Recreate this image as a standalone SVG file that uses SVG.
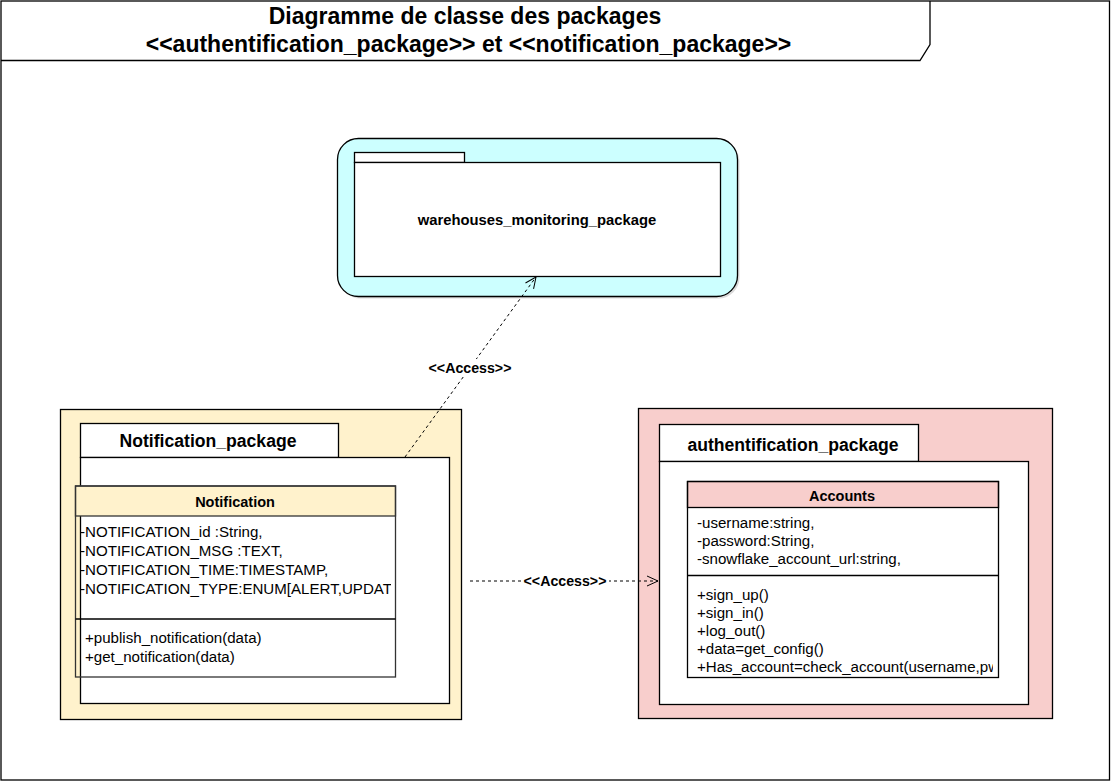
<svg xmlns="http://www.w3.org/2000/svg" width="1111" height="781" viewBox="0 0 1111 781">
<style>
text{font-family:"Liberation Sans",Arial,Helvetica,sans-serif;fill:#000}
.title{font-size:23px;font-weight:bold;text-anchor:middle}
.pkgname{font-size:17.6px;font-weight:bold;text-anchor:middle}
.cls{font-size:14.5px;font-weight:bold;text-anchor:middle}
.attr{font-size:15.1px}
.lbl{font-size:14.2px;font-weight:bold;text-anchor:middle}
.ln{fill:none;stroke:#000;stroke-width:1.3}
.white{fill:#fff;stroke:#000;stroke-width:1.3}
.dash{fill:none;stroke:#000;stroke-width:1;stroke-dasharray:3 3}
</style>
<defs>
<marker id="open" markerWidth="14" markerHeight="14" refX="12" refY="6" orient="auto" markerUnits="userSpaceOnUse">
<path d="M1,1 L12,6 L1,11" fill="none" stroke="#000" stroke-width="1"/>
</marker>
<clipPath id="clipNotif"><rect x="76" y="516" width="315" height="160"/></clipPath>
<clipPath id="clipAcc"><rect x="688" y="508" width="305" height="168"/></clipPath>
</defs>
<rect width="1111" height="781" fill="#fff"/>
<g id="frame">
<rect x="1" y="1" width="1108.5" height="779" class="ln" stroke-width="1.5"/>
<path d="M1,60.5 H920 L930,44.5 V1" class="ln"/>
<text class="title" x="465" y="24">Diagramme de classe des packages</text>
<text class="title" x="468.5" y="52">&lt;&lt;authentification_package&gt;&gt; et &lt;&lt;notification_package&gt;&gt;</text>
</g>
<g id="warehouses_monitoring_package">
<rect x="339.5" y="140.5" width="400" height="158" rx="21" fill="#999" opacity="0.35"/>
<rect x="337.5" y="138.5" width="400" height="158" rx="21" fill="#CCFFFF" stroke="#000" stroke-width="1.3"/>
<rect x="354.5" y="152.5" width="110" height="10" class="white"/>
<rect x="354.5" y="162.5" width="366" height="114" class="white"/>
<text x="537" y="225" font-size="14.8" font-weight="bold" text-anchor="middle">warehouses_monitoring_package</text>
</g>
<g id="notification_package">
<rect x="60.5" y="409.5" width="401" height="310" fill="#FFF2CC" stroke="#000" stroke-width="1.3"/>
<rect x="80.5" y="423.5" width="258" height="34" class="white"/>
<rect x="80.5" y="457.5" width="369" height="246" class="white"/>
<text class="pkgname" x="208" y="447">Notification_package</text>
</g>
<g id="Notification">
<rect x="75.5" y="486" width="320" height="30" fill="#FFF2CC" stroke="#333" stroke-width="1.3"/>
<rect x="75.5" y="486" width="320" height="191" fill="none" stroke="#333" stroke-width="1.3"/>
<line x1="75.5" y1="619" x2="395.5" y2="619" stroke="#000" stroke-width="1.3"/>
<text class="cls" x="235" y="507">Notification</text>
<g clip-path="url(#clipNotif)">
<text class="attr" x="80" y="537">-NOTIFICATION_id :String,</text>
<text class="attr" x="80" y="556">-NOTIFICATION_MSG :TEXT,</text>
<text class="attr" x="80" y="575">-NOTIFICATION_TIME:TIMESTAMP,</text>
<text class="attr" x="80" y="594">-NOTIFICATION_TYPE:ENUM[ALERT,UPDATE]</text>
<text class="attr" x="85" y="643">+publish_notification(data)</text>
<text class="attr" x="85" y="662">+get_notification(data)</text>
</g>
</g>
<g id="authentification_package">
<rect x="638.5" y="408.5" width="414" height="310" fill="#F8CECC" stroke="#000" stroke-width="1.3"/>
<rect x="659.5" y="424.5" width="259" height="37" class="white"/>
<rect x="659.5" y="461.5" width="369" height="243" class="white"/>
<text class="pkgname" x="793" y="451">authentification_package</text>
</g>
<g id="Accounts">
<rect x="687.5" y="481.5" width="311" height="26" fill="#F8CECC" stroke="#000" stroke-width="1.3"/>
<rect x="687.5" y="481.5" width="311" height="196" fill="#fff" fill-opacity="0" stroke="#000" stroke-width="1.3"/>
<line x1="687.5" y1="575.5" x2="998.5" y2="575.5" stroke="#000" stroke-width="1.3"/>
<text class="cls" x="842" y="501">Accounts</text>
<g clip-path="url(#clipAcc)">
<text class="attr" x="697" y="528">-username:string,</text>
<text class="attr" x="697" y="546">-password:String,</text>
<text class="attr" x="697" y="564">-snowflake_account_url:string,</text>
<text class="attr" x="697" y="600">+sign_up()</text>
<text class="attr" x="697" y="618">+sign_in()</text>
<text class="attr" x="697" y="636">+log_out()</text>
<text class="attr" x="697" y="654">+data=get_config()</text>
<text class="attr" x="697" y="672">+Has_account=check_account(username,pwd)</text>
</g>
</g>
<g id="connectors">
<path d="M405,457 L536,277" class="dash" marker-end="url(#open)"/>
<rect x="426" y="359" width="89" height="18" fill="#fff"/>
<text class="lbl" x="470" y="373">&lt;&lt;Access&gt;&gt;</text>
<path d="M470,581 L658,581" class="dash" marker-end="url(#open)"/>
<rect x="521" y="573" width="88" height="17" fill="#fff"/>
<text class="lbl" x="565" y="586">&lt;&lt;Access&gt;&gt;</text>
</g>
</svg>
